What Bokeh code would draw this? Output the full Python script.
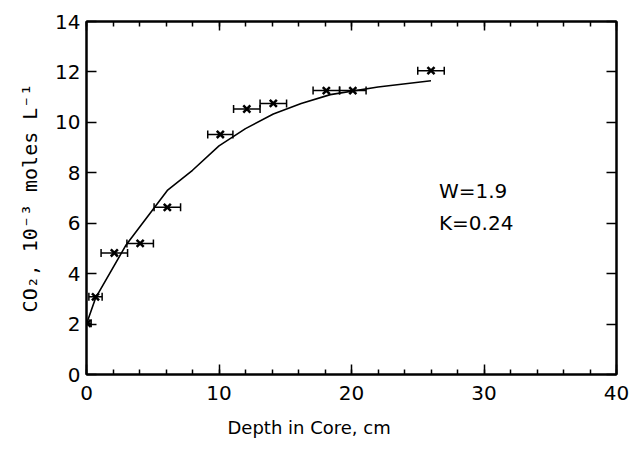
from bokeh.plotting import figure
from bokeh.models import (Range1d, LinearAxis, SingleIntervalTicker, Whisker, TeeHead,
                          ColumnDataSource, Label, Title)
from bokeh.embed import file_html
from bokeh.resources import INLINE

# measured points (depth cm, CO2 1e-3 mol/L, horizontal half-error)
depth = [0.05, 0.68, 2.1, 4.05, 6.1, 10.1, 12.1, 14.1, 18.1, 20.1, 26.0]
co2 = [2.03, 3.08, 4.82, 5.2, 6.63, 9.52, 10.53, 10.75, 11.26, 11.26, 12.05]
depth_err = [0.3, 0.5, 1.0, 1.0, 1.0, 0.95, 1.0, 1.0, 1.0, 1.0, 1.0]

# model curve
curve_depth = [0, 0.7, 3.0, 6.1, 8.0, 10.0, 12.0, 14.1, 16.2, 18.4, 22.0, 26.0]
curve_co2 = [2.0, 3.05, 5.15, 7.3, 8.1, 9.07, 9.75, 10.33, 10.75, 11.1, 11.4, 11.65]

x_title = "Depth in Core, cm"
y_title = "CO\u2082, 10\u207b\u00b3 moles L\u207b\u00b9"
notes = ["W=1.9", "K=0.24"]

FONT = "DejaVu Sans"

p = figure(width=633, height=449, x_range=Range1d(0, 40), y_range=Range1d(0, 14),
           output_backend="svg", toolbar_location=None,
           min_border_left=86, min_border_right=17, min_border_top=21, min_border_bottom=23,
           x_axis_location=None, y_axis_location=None)
p.grid.visible = False
p.outline_line_color = "black"
p.outline_line_width = 2
p.background_fill_color = "white"
p.border_fill_color = "white"


def style(ax, labels=True, minor=True, major_len=10):
    ax.axis_line_color = "black"
    ax.axis_line_width = 2
    ax.major_tick_in = major_len
    ax.major_tick_out = 0
    ax.major_tick_line_width = 1.5
    if minor:
        ax.minor_tick_in = 5
        ax.minor_tick_out = 0
        ax.minor_tick_line_width = 1.5
    else:
        ax.minor_tick_line_color = None
    if labels:
        ax.major_label_text_font = FONT
        ax.major_label_text_font_size = "20px"
        ax.major_label_text_color = "black"
    else:
        ax.major_label_text_font_size = "1px"
        ax.major_label_text_color = None
        ax.major_label_standoff = 0


xt = SingleIntervalTicker(interval=10, num_minor_ticks=5)
yt = SingleIntervalTicker(interval=2, num_minor_ticks=0)

xb = LinearAxis(ticker=xt)
style(xb)
xb.major_label_standoff = 11
p.add_layout(xb, "below")

# x axis title, placed left of centre as in the reference
p.add_layout(Title(text=x_title, align="left", offset=141, text_font=FONT,
                   text_font_size="18px", text_font_style="normal", text_color="black",
                   standoff=24), "below")

xa = LinearAxis(ticker=SingleIntervalTicker(interval=10, num_minor_ticks=5))
style(xa, labels=False, major_len=9)
p.add_layout(xa, "above")

yl = LinearAxis(ticker=yt, axis_label=y_title)
style(yl, minor=False)
yl.major_label_standoff = 6
yl.axis_label_text_font = "DejaVu Sans Mono"
yl.axis_label_text_font_style = "normal"
yl.axis_label_text_font_size = "20px"
yl.axis_label_text_color = "black"
yl.axis_label_standoff = 10
p.add_layout(yl, "left")

yr = LinearAxis(ticker=SingleIntervalTicker(interval=2, num_minor_ticks=0))
style(yr, labels=False, minor=False)
p.add_layout(yr, "right")

# curve
p.line(curve_depth, curve_co2, line_color="black", line_width=1.6)

# error bars
src = ColumnDataSource(dict(
    y=co2,
    lower=[d - e for d, e in zip(depth, depth_err)],
    upper=[d + e for d, e in zip(depth, depth_err)],
))
wh = Whisker(base="y", lower="lower", upper="upper", dimension="width", source=src,
             line_color="black", line_width=1.5,
             lower_head=TeeHead(size=8, line_color="black", line_width=1.5),
             upper_head=TeeHead(size=8, line_color="black", line_width=1.5))
p.add_layout(wh)

p.scatter(depth, co2, marker="x", size=10, line_color="black", line_width=2.5)

# annotations
p.add_layout(Label(x=26.6, y=7.28, text=notes[0], text_font=FONT, text_font_size="20px",
                   text_baseline="middle", text_align="left", text_color="black"))
p.add_layout(Label(x=26.6, y=6.02, text=notes[1], text_font=FONT, text_font_size="20px",
                   text_baseline="middle", text_align="left", text_color="black"))

open("out.html", "w").write(file_html(p, INLINE))
